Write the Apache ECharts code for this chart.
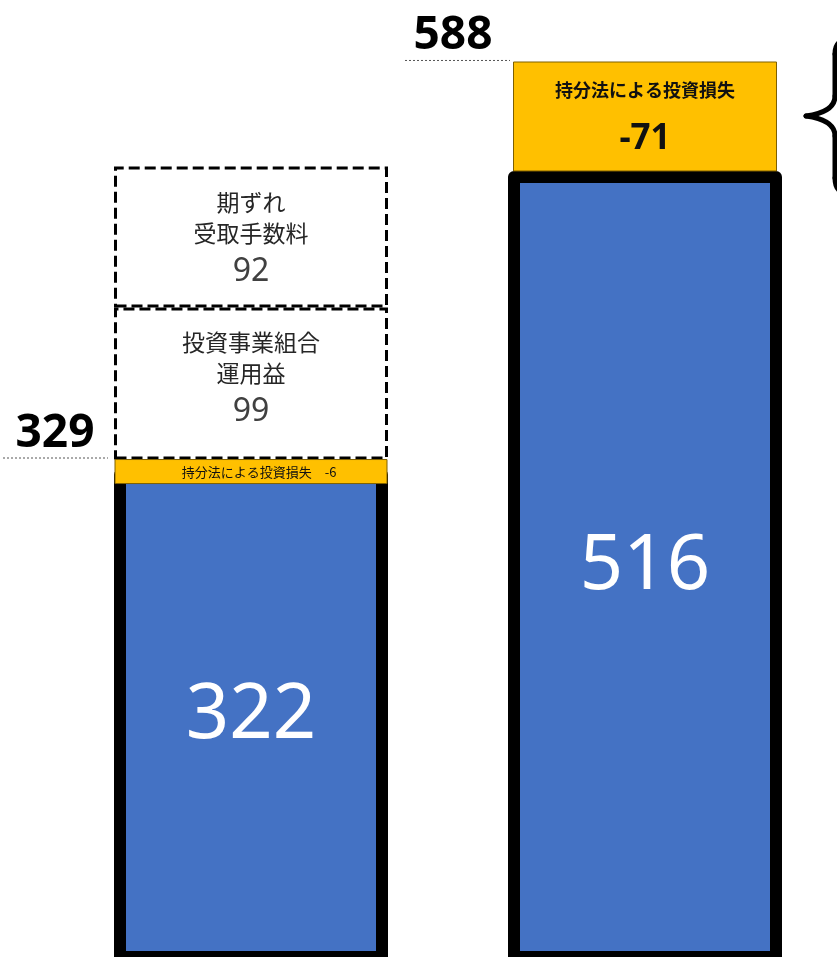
<!DOCTYPE html>
<html><head><meta charset="utf-8">
<script src="https://cdn.jsdelivr.net/npm/echarts@6/dist/echarts.min.js"></script>
<style>html,body{margin:0;padding:0;background:#fff;overflow:hidden}#c{width:837px;height:957px}</style>
</head><body><div id="c"></div>
<script>
// ---- data ----
const categories = ['前回', '今回'];
const baseValues = [322, 516];
const equityLoss = [-6, -71];
const fundGain = [99, null];
const feeTiming = [92, null];
const totals = [329, 588];
const lossLabel = '持分法による投資損失';
const fundGainLabel = '投資事業組合\n運用益';
const feeTimingLabel = '期ずれ\n受取手数料';

// ---- style ----
const CJK = '"Noto Sans CJK JP", "Noto Sans", sans-serif';
const LAT = '"Noto Sans", "Noto Sans CJK JP", sans-serif';
const LOSS_W = [272, 263];
const LOSS_MIN_H = 24;

const chart = echarts.init(document.getElementById('c'), null, {renderer: 'canvas'});

function dashedLabel(text) {
  return function (p) {
    return text.split('\n').map(s => '{t|' + s + '}').join('\n') + '\n{n|' + p.value + '}';
  };
}
const dashedRich = {
  t: {fontSize: 23, lineHeight: 31, color: '#262626', fontFamily: CJK},
  n: {fontSize: 32, lineHeight: 46, color: '#404040', fontFamily: LAT}
};
const dashedItem = {color: '#ffffff', borderColor: '#000', borderWidth: 3, borderType: [11, 5]};

function renderLoss(params, api) {
  const i = params.dataIndex;
  const base = api.value(1), size = api.value(2), val = api.value(3);
  const cx = api.coord([i, base])[0];
  const top = api.coord([i, base + size])[1];
  let bottom = api.coord([i, base])[1];
  if (bottom - top < LOSS_MIN_H) bottom = top + LOSS_MIN_H;
  const w = LOSS_W[i];
  const h = bottom - top;
  const children = [{
    type: 'rect',
    shape: {x: cx - w / 2, y: top, width: w, height: h},
    style: {fill: '#FFC000', stroke: '#7F6000', lineWidth: 1}
  }];
  if (h > 60) {
    children.push({type: 'text', style: {text: lossLabel, x: cx, y: top + 28, align: 'center', verticalAlign: 'middle',
      font: 'bold 18px ' + CJK, fill: '#111'}});
    children.push({type: 'text', style: {text: String(val), x: cx, y: top + 77, align: 'center', verticalAlign: 'middle',
      font: 'bold 35px ' + LAT, fill: '#111'}});
  } else {
    children.push({type: 'text', style: {text: lossLabel + '　' + val, x: cx + 8, y: top + h / 2 + 1, align: 'center', verticalAlign: 'middle',
      font: '13px ' + CJK, fill: '#111'}});
  }
  return {type: 'group', children: children};
}

chart.setOption({
  animation: false,
  grid: {left: 251, right: 192, top: 0, bottom: 0},
  xAxis: {type: 'category', data: categories, show: false, boundaryGap: false},
  yAxis: {type: 'value', min: 3.9, max: 627.4, show: false},
  series: [
    {
      name: 'base', type: 'bar', stack: 's', barWidth: 274, clip: false, z: 2,
      data: baseValues,
      itemStyle: {color: '#4472C4', borderColor: '#000', borderWidth: 12, borderJoin: 'round'},
      label: {show: true, position: 'inside', color: '#fff', fontSize: 76, fontFamily: LAT}
    },
    {
      name: 'lossSpace', type: 'bar', stack: 's', silent: true, clip: false,
      data: equityLoss.map(v => -v),
      itemStyle: {color: 'rgba(0,0,0,0)'}
    },
    {
      name: 'fundGain', type: 'bar', stack: 's', z: 2, clip: false,
      data: fundGain,
      itemStyle: dashedItem,
      label: {show: true, position: 'inside', offset: [0, -3], formatter: dashedLabel(fundGainLabel), rich: dashedRich}
    },
    {
      name: 'feeTiming', type: 'bar', stack: 's', z: 2, clip: false,
      data: feeTiming,
      itemStyle: dashedItem,
      label: {show: true, position: 'inside', offset: [0, 4], formatter: dashedLabel(feeTimingLabel), rich: dashedRich}
    },
    {
      name: 'loss', type: 'custom', z: 5, clip: false,
      data: categories.map((c, i) => [i, baseValues[i], -equityLoss[i], equityLoss[i]]),
      encode: {x: 0, y: 1},
      renderItem: renderLoss
    }
  ]
});

const yL = chart.convertToPixel({yAxisIndex: 0}, totals[0]);
const yR = chart.convertToPixel({yAxisIndex: 0}, totals[1]);
const braceStyle = {fill: 'none', stroke: '#000', lineWidth: 5, lineCap: 'round'};
chart.setOption({
  graphic: [
    {type: 'line', shape: {x1: 3, y1: yL, x2: 108, y2: yL}, style: {stroke: '#555', lineWidth: 1, lineDash: [2, 2]}},
    {type: 'text', style: {text: String(totals[0]), x: 55, y: yL - 24, align: 'center', verticalAlign: 'middle', font: 'bold 46px ' + LAT, fill: '#000'}},
    {type: 'line', shape: {x1: 405, y1: yR, x2: 510, y2: yR}, style: {stroke: '#555', lineWidth: 1, lineDash: [2, 2]}},
    {type: 'text', style: {text: String(totals[1]), x: 453, y: yR - 25, align: 'center', verticalAlign: 'middle', font: 'bold 46px ' + LAT, fill: '#000'}},
    {type: 'bezierCurve', shape: {x1: 848, y1: 40, x2: 835, y2: 54, cpx1: 835, cpy1: 40}, style: braceStyle},
    {type: 'line', shape: {x1: 835, y1: 54, x2: 835, y2: 96}, style: braceStyle},
    {type: 'bezierCurve', shape: {x1: 835, y1: 96, x2: 806, y2: 116, cpx1: 835, cpy1: 112}, style: braceStyle},
    {type: 'bezierCurve', shape: {x1: 806, y1: 116, x2: 835, y2: 136, cpx1: 835, cpy1: 120}, style: braceStyle},
    {type: 'line', shape: {x1: 835, y1: 136, x2: 835, y2: 178}, style: braceStyle},
    {type: 'bezierCurve', shape: {x1: 835, y1: 178, x2: 848, y2: 193, cpx1: 835, cpy1: 193}, style: braceStyle}
  ]
});
</script>
</body></html>
